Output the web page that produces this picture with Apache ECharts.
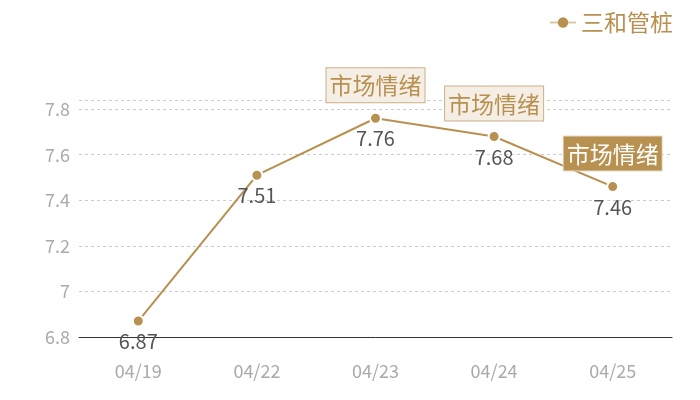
<!DOCTYPE html>
<html>
<head>
<meta charset="utf-8">
<script src="https://cdn.jsdelivr.net/npm/echarts@6/dist/echarts.min.js"></script>
<style>
    html, body { margin: 0; padding: 0; background: #fff; }
    #chart { width: 700px; height: 400px; }
</style>
</head>
<body>
<div id="chart"></div>
<script>
// 数据
var dates = ['04/19', '04/22', '04/23', '04/24', '04/25'];
var values = [6.87, 7.51, 7.76, 7.68, 7.46];
var seriesName = '三和管桩';
// 市场情绪标记 (日期下标, 是否高亮)
var moodIndex = [2, 3, 4];
var moodActive = [false, false, true];
var moodText = '市场情绪';

var gold = '#b8904f';

document.addEventListener('DOMContentLoaded', function () {
    var myChart = echarts.init(document.getElementById('chart'));

    var markData = [];
    moodIndex.forEach(function (idx, i) {
        var active = moodActive[i];
        markData.push({
            coord: [dates[idx], values[idx]],
            label: {
                backgroundColor: active ? gold : '#f4eee5',
                borderColor: active ? '#e8dcc8' : '#cdb089',
                borderWidth: 1,
                color: active ? '#fff' : gold
            }
        });
    });

    var option = {
        backgroundColor: '#fff',
        animation: false,
        textStyle: { fontFamily: '"Noto Sans CJK SC", "Noto Sans", sans-serif' },
        legend: {
            top: 6,
            right: 22,
            itemWidth: 26,
            itemHeight: 13,
            itemGap: 8,
            itemStyle: { color: gold, borderWidth: 0 },
            lineStyle: { color: '#dcc9a6', width: 2, type: 'solid' },
            textStyle: { color: gold, fontSize: 23 },
            data: [seriesName]
        },
        grid: {
            left: 79,
            right: 28,
            top: 100,
            bottom: 63,
            containLabel: false
        },
        xAxis: {
            type: 'category',
            data: dates,
            boundaryGap: true,
            axisLine: { show: true, lineStyle: { color: '#333', width: 1 } },
            axisTick: { show: false },
            axisLabel: { color: '#aaa', fontSize: 18, margin: 25 },
            splitLine: { show: false }
        },
        yAxis: {
            type: 'value',
            min: 6.8,
            max: 7.84,
            interval: 0.2,
            axisLine: { show: false },
            axisTick: { show: false },
            axisLabel: { color: '#aaa', fontSize: 18, margin: 9, showMaxLabel: false },
            splitLine: { show: true, lineStyle: { color: '#ccc', type: [3, 3], width: 1 } }
        },
        series: [
            {
                name: seriesName,
                type: 'line',
                data: values,
                symbol: 'circle',
                symbolSize: 11,
                itemStyle: { color: gold, borderColor: '#fff', borderWidth: 2 },
                lineStyle: { color: gold, width: 2 },
                label: {
                    show: true,
                    position: 'bottom',
                    distance: 4,
                    color: '#555',
                    fontSize: 20
                },
                markPoint: {
                    symbol: 'circle',
                    symbolSize: 0,
                    label: {
                        show: true,
                        position: 'top',
                        distance: 16,
                        formatter: moodText,
                        fontSize: 23,
                        lineHeight: 27,
                        padding: [4, 3, 3, 3]
                    },
                    data: markData
                }
            }
        ]
    };

    myChart.setOption(option);

    window.addEventListener('resize', function () {
        myChart.resize();
    });
});
</script>
</body>
</html>
